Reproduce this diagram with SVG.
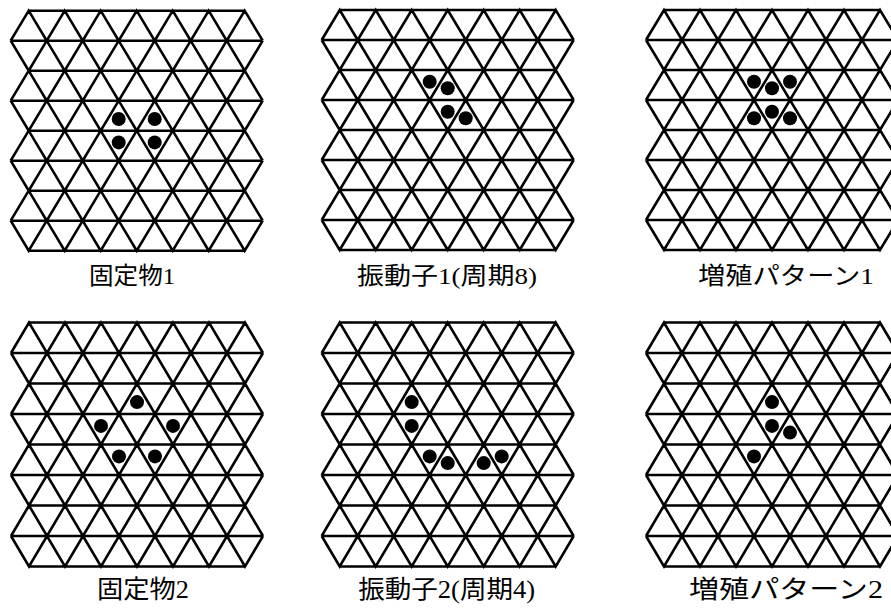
<svg xmlns="http://www.w3.org/2000/svg" width="891" height="608" viewBox="0 0 891 608">
<style>
.grid{fill:none;stroke:#000;stroke-width:2.6;stroke-linejoin:miter;stroke-miterlimit:10}
.dot{fill:#000}
.lbl{font-family:"Liberation Serif","Noto Sans CJK JP",serif;fill:#000;text-anchor:middle}
.t{font-size:24px}
.b{font-size:25px}
</style>
<defs>
<path id="tri" class="grid" vector-effect="non-scaling-stroke" d="M18,0 H234 M0,30 H252 M18,60 H234 M0,90 H252 M18,120 H234 M0,150 H252 M18,180 H234 M0,210 H252 M18,240 H234
M0,30 L18,0 36,30 54,0 72,30 90,0 108,30 126,0 144,30 162,0 180,30 198,0 216,30 234,0 252,30
M0,30 L18,60 36,30 54,60 72,30 90,60 108,30 126,60 144,30 162,60 180,30 198,60 216,30 234,60 252,30
M0,90 L18,60 36,90 54,60 72,90 90,60 108,90 126,60 144,90 162,60 180,90 198,60 216,90 234,60 252,90
M0,90 L18,120 36,90 54,120 72,90 90,120 108,90 126,120 144,90 162,120 180,90 198,120 216,90 234,120 252,90
M0,150 L18,120 36,150 54,120 72,150 90,120 108,150 126,120 144,150 162,120 180,150 198,120 216,150 234,120 252,150
M0,150 L18,180 36,150 54,180 72,150 90,180 108,150 126,180 144,150 162,180 180,150 198,180 216,150 234,180 252,150
M0,210 L18,180 36,210 54,180 72,210 90,180 108,210 126,180 144,210 162,180 180,210 198,180 216,210 234,180 252,210
M0,210 L18,240 36,210 54,240 72,210 90,240 108,210 126,240 144,210 162,240 180,210 198,240 216,210 234,240 252,210"/>
</defs>
<rect width="891" height="608" fill="#fff"/>

<g id="still1">
<use href="#tri" transform="translate(10.7,10.7)"/>
<circle class="dot" cx="118.7" cy="119" r="7"/>
<circle class="dot" cx="154.7" cy="119" r="7"/>
<circle class="dot" cx="118.7" cy="142.4" r="7"/>
<circle class="dot" cx="154.7" cy="142.4" r="7"/>
<text class="lbl t" x="132" y="284" textLength="86" lengthAdjust="spacingAndGlyphs">固定物1</text>
</g>

<g id="osc1">
<use href="#tri" transform="translate(321.7,10)"/>
<circle class="dot" cx="429.7" cy="81.7" r="7"/>
<circle class="dot" cx="447.7" cy="88.3" r="7"/>
<circle class="dot" cx="447.7" cy="111.7" r="7"/>
<circle class="dot" cx="465.7" cy="118.3" r="7"/>
<text class="lbl t" x="447" y="284" textLength="180" lengthAdjust="spacingAndGlyphs">振動子1(周期8)</text>
</g>

<g id="grow1">
<use href="#tri" transform="translate(646,10)"/>
<circle class="dot" cx="754" cy="81.7" r="7"/>
<circle class="dot" cx="790" cy="81.7" r="7"/>
<circle class="dot" cx="772" cy="88.3" r="7"/>
<circle class="dot" cx="772" cy="111.7" r="7"/>
<circle class="dot" cx="754" cy="118.3" r="7"/>
<circle class="dot" cx="790" cy="118.3" r="7"/>
<text class="lbl t" x="786" y="284" textLength="176" lengthAdjust="spacingAndGlyphs">増殖パターン1</text>
</g>

<g id="still2">
<use href="#tri" transform="translate(11,322.5) scale(1,1.0167)"/>
<circle class="dot" cx="137" cy="402.1" r="7"/>
<circle class="dot" cx="101" cy="425.9" r="7"/>
<circle class="dot" cx="173" cy="425.9" r="7"/>
<circle class="dot" cx="119" cy="456.4" r="7"/>
<circle class="dot" cx="155" cy="456.4" r="7"/>
<text class="lbl b" x="143" y="598" textLength="92" lengthAdjust="spacingAndGlyphs">固定物2</text>
</g>

<g id="osc2">
<use href="#tri" transform="translate(321.7,322.5) scale(1,1.0167)"/>
<circle class="dot" cx="411.7" cy="402.1" r="7"/>
<circle class="dot" cx="411.7" cy="425.9" r="7"/>
<circle class="dot" cx="429.7" cy="456.4" r="7"/>
<circle class="dot" cx="447.7" cy="463.1" r="7"/>
<circle class="dot" cx="483.7" cy="463.1" r="7"/>
<circle class="dot" cx="501.7" cy="456.4" r="7"/>
<text class="lbl b" x="446.7" y="598" textLength="177" lengthAdjust="spacingAndGlyphs">振動子2(周期4)</text>
</g>

<g id="grow2">
<use href="#tri" transform="translate(646,322.5) scale(1,1.0167)"/>
<circle class="dot" cx="772" cy="402.1" r="7"/>
<circle class="dot" cx="772" cy="425.9" r="7"/>
<circle class="dot" cx="790" cy="432.6" r="7"/>
<circle class="dot" cx="754" cy="456.4" r="7"/>
<text class="lbl b" x="786" y="598" textLength="194" lengthAdjust="spacingAndGlyphs">増殖パターン2</text>
</g>

<g id="connectors"></g>
</svg>
